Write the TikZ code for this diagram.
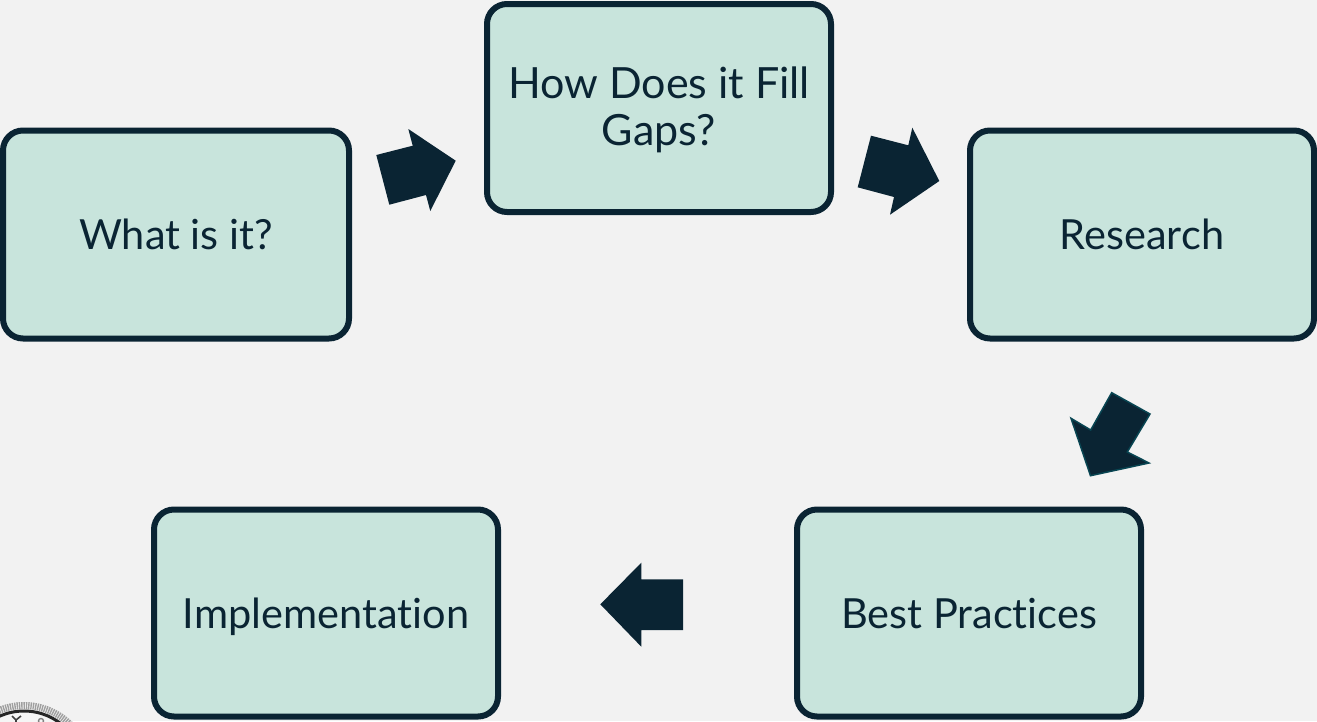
\documentclass[tikz,border=0pt]{standalone}
\usepackage{fontspec}
\setmainfont[Ligatures=NoCommon]{Lato}
\definecolor{bgc}{HTML}{F2F2F2}
\definecolor{boxc}{HTML}{C8E4DC}
\definecolor{dark}{HTML}{0A2433}
\tikzset{
  x=1pt,y=-1pt,
  stepbox/.style={draw=dark,line width=6pt,fill=boxc,rounded corners=20pt,align=center,inner sep=0pt,text=dark,font=\fontsize{41.5}{47}\selectfont,anchor=center},
  flat/.style={text height=30pt,text depth=0pt},
  arrowshape/.style={fill=dark,draw=none},
}
\begin{document}
\begin{tikzpicture}
\useasboundingbox (0,0) rectangle (1317,721);
\fill[bgc] (0,0) rectangle (1317,721);
% seal
\begin{scope}
\clip (0,0) rectangle (1317,721);
\fill[white!92!gray] (24,771) circle (68);
\draw[gray!75,line width=7pt,dash pattern=on 1.4pt off 0.9pt] (24,771) circle (65.5);
\draw[black!85,line width=3pt] (24,771) circle (60);
\draw[black!75,line width=1.6pt] (12,716) -- (16,720) -- (21,716) (16,720) -- (16,723);
\draw[black!50,line width=1.4pt] (41,721) circle (2.5);
\end{scope}
\node[stepbox,flat,minimum width=346pt,minimum height=208pt] (a) at (176,234.5) {What is it?};
\node[stepbox,minimum width=344pt,minimum height=208pt,font=\fontsize{43}{47}\selectfont] (b) at (659,108) {\rule{0pt}{35pt}How Does it Fill\\Gaps?};
\node[stepbox,flat,minimum width=344pt,minimum height=208pt] (c) at (1142,234.5) {Research};
\node[stepbox,flat,minimum width=344pt,minimum height=207pt] (d) at (969,613) {Best Practices};
\node[stepbox,flat,minimum width=344pt,minimum height=207pt] (e) at (326,613) {Implementation};
\fill[arrowshape] (376.3,155) -- (412.7,145.7) -- (408.3,129) -- (455.7,160.7) -- (430.3,211) -- (426,195) -- (389.3,204.7) -- cycle;
\fill[arrowshape] (871,135.7) -- (908.3,145.3) -- (912.3,127.7) -- (939.3,181) -- (890,214.7) -- (894,197) -- (857.7,187.3) -- cycle;
\filldraw[arrowshape,draw=dark!85!cyan,line width=1.5pt] (1111.7,392.7) -- (1150,414) -- (1127.3,452) -- (1149,463) -- (1090.5,475.7) -- (1071,418.3) -- (1090.7,430) -- cycle;
\fill[arrowshape] (600.3,604.3) -- (641.3,562.7) -- (641.3,579.3) -- (683,579.3) -- (683,630) -- (641.3,630) -- (641.3,646.7) -- cycle;
\end{tikzpicture}
\end{document}
